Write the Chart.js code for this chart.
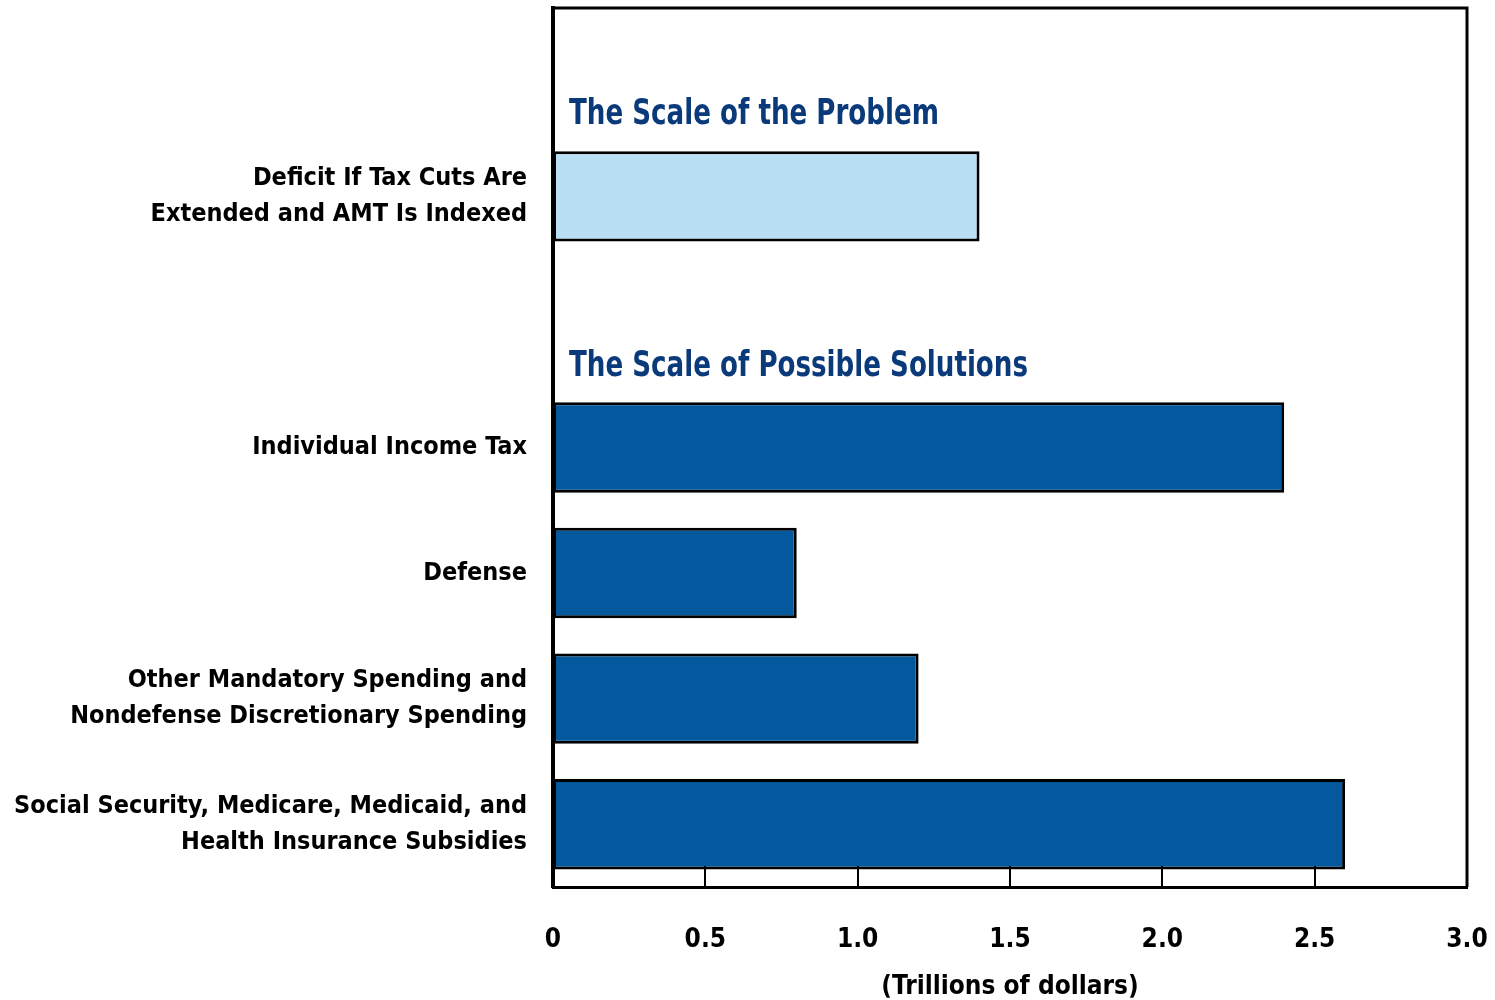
<!DOCTYPE html>
<html>
<head>
<meta charset="utf-8">
<script src="https://cdn.jsdelivr.net/npm/chart.js@4"></script>
<style>
  html, body { margin: 0; padding: 0; background: #fff; }
  #wrap { width: 1495px; height: 1000px; }
</style>
</head>
<body>
<div id="wrap"><canvas id="chart" width="1495" height="1000"></canvas></div>
<script>
  'use strict';

  // Rows top to bottom; empty rows hold the two group headings.
  var categories = [
    '',
    ['Deficit If Tax Cuts Are', 'Extended and AMT Is Indexed'],
    '',
    'Individual Income Tax',
    'Defense',
    ['Other Mandatory Spending and', 'Nondefense Discretionary Spending'],
    ['Social Security, Medicare, Medicaid, and', 'Health Insurance Subsidies']
  ];
  var values = [null, 1.4, null, 2.4, 0.8, 1.2, 2.6];
  var barKinds = ['', 'problem', '', 'solution', 'solution', 'solution', 'solution'];
  var groupHeadings = [
    { row: 0, text: 'The Scale of the Problem' },
    { row: 2, text: 'The Scale of Possible Solutions' }
  ];
  var xTicks = [0, 0.5, 1.0, 1.5, 2.0, 2.5, 3.0];
  var xTitle = '(Trillions of dollars)';

  var FONT = "'DejaVu Sans Condensed', 'Liberation Sans Narrow', 'Arial Narrow', sans-serif";
  var LIGHT = '#b8dff3';
  var DARK = '#04599e';
  var HEADING = '#0b3a7b';

  var barColors = barKinds.map(function (k) { return k === 'problem' ? LIGHT : DARK; });

  // Frame on top/right, inward ticks on the bottom axis, group headings.
  var decorations = {
    id: 'decorations',
    afterDatasetsDraw: function (chart) {
      var ctx = chart.ctx;
      var area = chart.chartArea;
      var x = chart.scales.x;
      var y = chart.scales.y;
      ctx.save();

      ctx.strokeStyle = '#000';
      ctx.lineWidth = 2;
      xTicks.forEach(function (t) {
        if (t === 0 || t === 3.0) return;
        var px = Math.round(x.getPixelForValue(t));
        ctx.beginPath();
        ctx.moveTo(px, area.bottom - 21);
        ctx.lineTo(px, area.bottom);
        ctx.stroke();
      });

      ctx.lineWidth = 3;
      ctx.beginPath();
      ctx.moveTo(area.left, area.top);
      ctx.lineTo(area.right, area.top);
      ctx.lineTo(area.right, area.bottom);
      ctx.stroke();

      // headings sit just above the first bar of their group, condensed
      var slot = y.getPixelForValue(1) - y.getPixelForValue(0);
      ctx.fillStyle = HEADING;
      ctx.font = 'bold 35px ' + FONT;
      ctx.textAlign = 'left';
      ctx.textBaseline = 'alphabetic';
      groupHeadings.forEach(function (h) {
        var base = y.getPixelForValue(h.row + 1) - slot * 0.573;
        ctx.save();
        ctx.translate(area.left + 16, base);
        ctx.scale(0.83, 1);
        ctx.fillText(h.text, 0, 0);
        ctx.restore();
      });
      ctx.restore();
    }
  };

  new Chart(document.getElementById('chart'), {
    type: 'bar',
    data: {
      labels: categories,
      datasets: [{
        data: values,
        backgroundColor: barColors,
        borderColor: '#000',
        borderWidth: 3,
        borderSkipped: false,
        barPercentage: 0.72,
        categoryPercentage: 1.0
      }]
    },
    options: {
      indexAxis: 'y',
      responsive: false,
      animation: false,
      layout: { padding: { top: 8, right: 28, left: 0, bottom: 0 } },
      plugins: {
        legend: { display: false },
        tooltip: { enabled: false }
      },
      scales: {
        x: {
          min: 0,
          max: 3.0,
          afterBuildTicks: function (scale) {
            scale.ticks = xTicks.map(function (v) { return { value: v }; });
          },
          afterFit: function (scale) {
            scale.height = 113;
            scale.paddingLeft = 0;
            scale.paddingRight = 0;
          },
          grid: { display: false, drawTicks: false },
          border: { display: true, color: '#000', width: 3 },
          ticks: {
            padding: 38,
            color: '#000',
            maxRotation: 0,
            font: { family: FONT, size: 26, weight: 'bold' },
            callback: function (v) { return v === 0 ? '0' : Number(v).toFixed(1); }
          },
          title: {
            display: true,
            text: xTitle,
            color: '#000',
            font: { family: FONT, size: 26, weight: 'bold' },
            padding: { top: 14, bottom: -3 }
          }
        },
        y: {
          afterFit: function (scale) {
            scale.width = 553;
            scale.paddingTop = 0;
            scale.paddingBottom = 0;
          },
          grid: { display: false, drawTicks: false },
          border: { display: true, color: '#000', width: 4 },
          ticks: {
            padding: 26,
            color: '#000',
            font: { family: FONT, size: 25, weight: 'bold', lineHeight: 1.44 }
          }
        }
      }
    },
    plugins: [decorations]
  });
</script>
</body>
</html>
